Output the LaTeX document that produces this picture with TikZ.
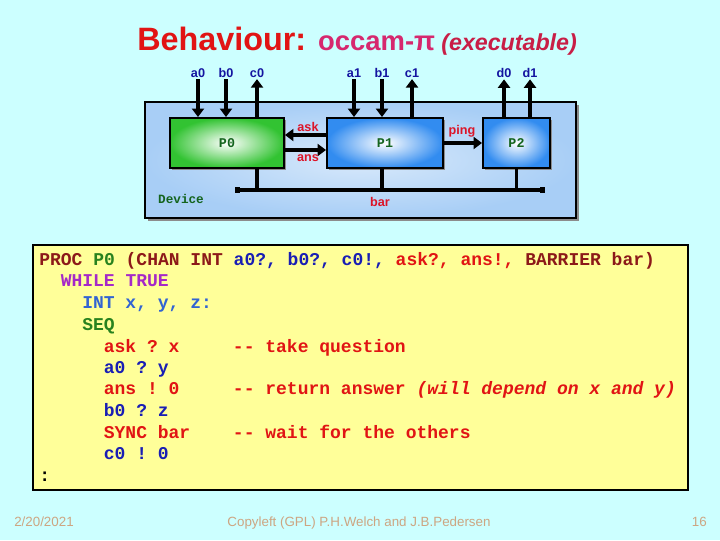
\documentclass[tikz,border=0pt]{standalone}
\usepackage{fontspec}
\setmainfont{Liberation Sans}
\setmonofont{Liberation Mono}
\usetikzlibrary{arrows.meta, positioning, calc, shadows}

\definecolor{slidebg}{RGB}{204,255,255}
\definecolor{titlered}{RGB}{225,20,20}
\definecolor{occampink}{RGB}{214,40,110}
\definecolor{execred}{RGB}{200,30,70}
\definecolor{chanblue}{RGB}{20,20,160}
\definecolor{labred}{RGB}{220,20,40}
\definecolor{procgreen}{RGB}{20,100,30}
\definecolor{devfill}{RGB}{168,206,246}
\definecolor{p0green}{RGB}{50,195,50}
\definecolor{p1blue}{RGB}{50,140,240}
\definecolor{codeyellow}{RGB}{255,255,153}
\definecolor{kwmaroon}{RGB}{140,25,25}
\definecolor{kwgreen}{RGB}{40,130,30}
\definecolor{kwblue}{RGB}{25,30,180}
\definecolor{kwsteel}{RGB}{50,100,210}
\definecolor{kwpurple}{RGB}{165,40,200}
\definecolor{kwred}{RGB}{225,20,20}
\definecolor{foottan}{RGB}{205,165,130}

\tikzset{
    device/.style={
        rectangle, draw=black, line width=1.4pt,
        minimum width=10.775cm, minimum height=2.9cm,
        inner color=white!55!devfill, outer color=devfill,
        drop shadow={shadow xshift=0.08cm, shadow yshift=-0.08cm, fill=black!45, opacity=1},
    },
    proc/.style={
        rectangle, draw=black, line width=1.4pt,
        minimum height=1.25cm,
        font=\ttfamily\bfseries\fontsize{9.5}{11}\selectfont, text=procgreen,
        drop shadow={shadow xshift=0.04cm, shadow yshift=-0.04cm, fill=black!45, opacity=1},
    },
    chanlbl/.style={
        font=\bfseries\fontsize{9}{10}\selectfont, text=chanblue, inner sep=1pt,
    },
    wirelbl/.style={
        font=\bfseries\fontsize{9}{10}\selectfont, text=labred, inner sep=1pt,
    },
    chan/.style={
        -{Triangle[length=6pt,width=8.5pt]}, line width=2.6pt,
    },
    wire/.style={
        line width=2.6pt,
    },
    barline/.style={
        {Square[length=3.5pt,width=4.5pt]}-{Square[length=3.5pt,width=4.5pt]}, line width=2.6pt,
    },
    codebox/.style={
        rectangle, draw=black, line width=0.9pt, fill=codeyellow,
        minimum width=16.375cm, minimum height=6.125cm,
    },
    code/.style={
        anchor=base west, inner sep=0pt,
        font=\ttfamily\bfseries\fontsize{12.8}{15}\selectfont,
    },
    footer/.style={
        anchor=base, inner sep=0pt,
        font=\fontsize{9.5}{11}\selectfont, text=foottan,
    },
}

\begin{document}
\begin{tikzpicture}[x=0.025cm, y=-0.025cm]

    % ── Slide background ──
    \fill[slidebg] (0,0) rectangle (720,540);
    \useasboundingbox (0,0) rectangle (720,540);

    % ── Title ──
    \node[anchor=base west, inner sep=0pt] (title) at (137,50)
        {\color{titlered}\bfseries\fontsize{23}{26}\selectfont Behaviour:
         \color{occampink}\fontsize{19.5}{26}\selectfont occam-π\hspace{-1pt}
         \color{execred}\itshape\fontsize{16.5}{20}\selectfont (executable)};

    % ── Device and its processes ──
    \node[device] (dev) at (360.5,160) {};
    \node[proc, minimum width=2.85cm,
          inner color=white, outer color=p0green] (p0) at (227,143) {P0};
    \node[proc, minimum width=2.9cm,
          inner color=white, outer color=p1blue] (p1) at (385,143) {P1};
    \node[proc, minimum width=1.675cm,
          inner color=white, outer color=p1blue] (p2) at (516.5,143) {P2};

    \node[font=\ttfamily\bfseries\fontsize{9}{10}\selectfont, text=procgreen]
        (devlbl) at (181,199) {Device};

    % ── External channel labels ──
    \node[chanlbl] (a0) at (198,73) {a0};
    \node[chanlbl] (b0) at (226,73) {b0};
    \node[chanlbl] (c0) at (257,73) {c0};
    \node[chanlbl] (a1) at (354,73) {a1};
    \node[chanlbl] (b1) at (382,73) {b1};
    \node[chanlbl] (c1) at (412,73) {c1};
    \node[chanlbl] (d0) at (504,73) {d0};
    \node[chanlbl] (d1) at (530,73) {d1};

    % ── Arrows: external channels ──
    \draw[chan] (a0) -- (a0 |- p0.north);
    \draw[chan] (b0) -- (b0 |- p0.north);
    \draw[chan] (c0 |- p0.north) -- (c0);
    \draw[chan] (a1) -- (a1 |- p1.north);
    \draw[chan] (b1) -- (b1 |- p1.north);
    \draw[chan] (c1 |- p1.north) -- (c1);
    \draw[chan] (d0 |- p2.north) -- (d0);
    \draw[chan] (d1 |- p2.north) -- (d1);

    % ── Arrows: internal channels ──
    \draw[chan] ($(p1.west)+(0,-8)$) -- ($(p0.east)+(0,-8)$);
    \draw[chan] ($(p0.east)+(0,7)$) -- ($(p1.west)+(0,7)$);
    \draw[chan] (p1.east) -- (p2.west);
    \node[wirelbl] (asklbl) at (308,127) {ask};
    \node[wirelbl] (anslbl) at (308,158) {ans};
    \node[wirelbl] (pinglbl) at (462,131) {ping};

    % ── Barrier ──
    \coordinate (barL) at (235,190);
    \coordinate (barR) at (545,190);
    \draw[barline] (barL) -- (barR);
    \draw[wire] (c0 |- p0.south) -- (c0 |- barL);
    \draw[wire] (b1 |- p1.south) -- (b1 |- barL);
    \draw[wire] (p2.south) -- (p2.south |- barL);
    \node[wirelbl] (barlbl) at (380,202) {bar};

    % ── Code listing ──
    \node[codebox] (codebg) at (360.5,367.5) {};
    \node[code] (l1) at (39,265) {\color{kwmaroon}PROC \color{kwgreen}P0
        \color{kwmaroon}(CHAN INT \color{kwblue}a0?, b0?, c0!,
        \color{kwred}ask?, ans!, \color{kwmaroon}BARRIER bar)};
    \node[code, text=kwpurple] (l2) at (60.5,286) {WHILE TRUE};
    \node[code, text=kwsteel] (l3) at (82,308) {INT x, y, z:};
    \node[code, text=kwgreen] (l4) at (82,330) {SEQ};
    \node[code, text=kwred] (l5) at (103.6,352) {ask ? x};
    \node[code, text=kwblue] (l6) at (103.6,373) {a0 ? y};
    \node[code, text=kwred] (l7) at (103.6,394) {ans ! 0};
    \node[code, text=kwblue] (l8) at (103.6,416) {b0 ? z};
    \node[code, text=kwred] (l9) at (103.6,438) {SYNC bar};
    \node[code, text=kwblue] (l10) at (103.6,459) {c0 ! 0};
    \node[code] (l11) at (39,481) {:};

    % ── Comments ──
    \node[code, text=kwred] (cm1) at (232.7,352) {-\kern0pt- take question};
    \node[code, text=kwred] (cm2) at (232.7,394)
        {-\kern0pt- return answer {\itshape(will depend on x and y)}};
    \node[code, text=kwred] (cm3) at (232.7,438) {-\kern0pt- wait for the others};

    % ── Footer ──
    \node[footer, anchor=base west] (date) at (14,526) {2/20/2021};
    \node[footer] (copy) at (359,526) {Copyleft (GPL) P.H.Welch and J.B.Pedersen};
    \node[footer, anchor=base east] (pageno) at (707,526) {16};

\end{tikzpicture}
\end{document}
